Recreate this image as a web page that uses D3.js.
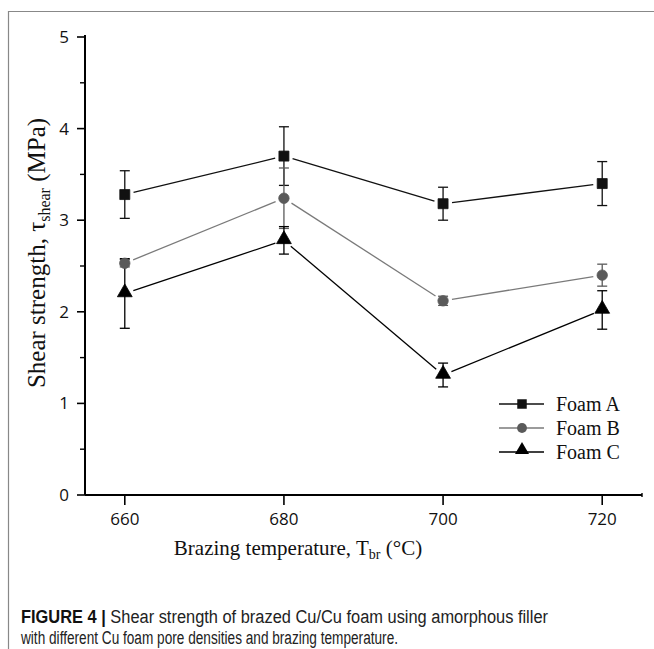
<!DOCTYPE html>
<html>
<head>
<meta charset="utf-8">
<script src="https://cdn.jsdelivr.net/npm/d3@7"></script>
<style>
  body { margin: 0; background: #fff; }
  svg { display: block; }
  .tick-label { font-family: "Open Sans", sans-serif; font-size: 17px; fill: #111; }
  .axis-title { font-family: "Liberation Serif", "Times New Roman", serif; fill: #111; }
  .legend { font-family: "Liberation Serif", "Times New Roman", serif; font-size: 20px; fill: #111; }
  .caption { font-family: "Liberation Sans Narrow", "Liberation Sans", Arial, sans-serif; font-size: 18px; fill: #222; }
</style>
</head>
<body>
<script>
// values
var temps = [660, 680, 700, 720];
var foamA = [3.28, 3.70, 3.18, 3.40];
var foamAErr = [0.26, 0.32, 0.18, 0.24];
var foamB = [2.53, 3.24, 2.12, 2.40];
var foamBErr = [0.04, 0.33, 0.05, 0.12];
var foamC = [2.20, 2.78, 1.31, 2.02];
var foamCErr = [0.38, 0.15, 0.13, 0.21];
var seriesNames = ["Foam A", "Foam B", "Foam C"];
var yTicks = [0, 1, 2, 3, 4, 5];
var yMinor = [0.5, 1.5, 2.5, 3.5, 4.5];

var w = 654, h = 649;
var m = {t:37, r:12, b:154, l:85};

var series = [
    {name: seriesNames[0], vals: foamA, err: foamAErr, color: "#111", sym: d3.symbolSquare, size: 100},
    {name: seriesNames[1], vals: foamB, err: foamBErr, color: "#5a5a5a", sym: d3.symbolCircle, size: 85, line: "#7a7a7a"},
    {name: seriesNames[2], vals: foamC, err: foamCErr, color: "#000", sym: d3.symbolTriangle, size: 95}
];

var svg = d3.select("body").append("svg")
    .attr("width", w)
    .attr("height", h);

// figure frame
svg.append("path")
    .attr("d", "M8.5," + h + "V11.5H" + w)
    .style("fill", "none")
    .style("stroke", "#888")
    .style("stroke-width", 1.2);

var x = d3.scaleLinear().domain([655, 725]).range([m.l, w - m.r]);
var y = d3.scaleLinear().domain([0, 5]).range([h - m.b, m.t]);

var g = svg.append("g");

// y axis
g.append("line")
    .attr("x1", m.l).attr("x2", m.l)
    .attr("y1", y(0)).attr("y2", y(5) - 2)
    .style("stroke", "#000").style("stroke-width", 2);

g.selectAll(".ytick").data(yTicks).enter().append("line")
    .attr("class", "ytick")
    .attr("x1", m.l - 8).attr("x2", m.l)
    .attr("y1", function(d){ return y(d); })
    .attr("y2", function(d){ return y(d); })
    .style("stroke", "#000").style("stroke-width", 1.6);

g.selectAll(".yminor").data(yMinor).enter().append("line")
    .attr("class", "yminor")
    .attr("x1", m.l - 5).attr("x2", m.l)
    .attr("y1", function(d){ return y(d); })
    .attr("y2", function(d){ return y(d); })
    .style("stroke", "#000").style("stroke-width", 1.4);

g.selectAll(".ylab").data(yTicks).enter().append("text")
    .attr("class", "tick-label")
    .attr("x", m.l - 16)
    .attr("y", function(d){ return y(d) + 6; })
    .style("text-anchor", "end")
    .text(function(d){ return d; });

// x axis
g.append("line")
    .attr("x1", m.l).attr("x2", w - m.r)
    .attr("y1", y(0)).attr("y2", y(0))
    .style("stroke", "#000").style("stroke-width", 2);

g.selectAll(".xtick").data(temps).enter().append("line")
    .attr("class", "xtick")
    .attr("x1", function(d){ return x(d); })
    .attr("x2", function(d){ return x(d); })
    .attr("y1", y(0)).attr("y2", y(0) + 10)
    .style("stroke", "#000").style("stroke-width", 1.6);

g.append("line")
    .attr("x1", x(725)).attr("x2", x(725))
    .attr("y1", y(0) - 2).attr("y2", y(0) + 2)
    .style("stroke", "#000").style("stroke-width", 1.4);

g.selectAll(".xlab").data(temps).enter().append("text")
    .attr("class", "tick-label")
    .attr("x", function(d){ return x(d); })
    .attr("y", y(0) + 30)
    .style("text-anchor", "middle")
    .text(function(d){ return d; });

// axis titles
var xt = svg.append("text")
    .attr("class", "axis-title")
    .attr("x", 298)
    .attr("y", 555)
    .style("font-size", "21px")
    .style("text-anchor", "middle");
xt.append("tspan").text("Brazing temperature, T");
xt.append("tspan").attr("dy", 4).style("font-size", "14px").text("br");
xt.append("tspan").attr("dy", -4).text(" (\u00B0C)");

var yt = svg.append("text")
    .attr("class", "axis-title")
    .attr("transform", "translate(45,253) rotate(-90)")
    .style("font-size", "25px")
    .style("text-anchor", "middle");
yt.append("tspan").text("Shear strength, \u03C4");
yt.append("tspan").attr("dy", 5).style("font-size", "16px").text("shear");
yt.append("tspan").attr("dy", -5).text(" (MPa)");

// lines with small gaps at the markers (origin style)
var gap = 9;
series.forEach(function(s){
    var pts = temps.map(function(t, i){ return [x(t), y(s.vals[i])]; });
    for (var i = 0; i < pts.length - 1; i++) {
        var a = pts[i], b = pts[i+1];
        var dx = b[0] - a[0], dy = b[1] - a[1];
        var len = Math.sqrt(dx*dx + dy*dy);
        var ux = dx / len, uy = dy / len;
        g.append("line")
            .attr("x1", a[0] + ux*gap).attr("y1", a[1] + uy*gap)
            .attr("x2", b[0] - ux*gap).attr("y2", b[1] - uy*gap)
            .style("stroke", s.line || s.color)
            .style("stroke-width", 1.3);
    }
});

// error bars
series.forEach(function(s){
    var eb = g.append("g");
    temps.forEach(function(t, i){
        var lo = y(s.vals[i] - s.err[i]), hi = y(s.vals[i] + s.err[i]), cx = x(t);
        eb.append("line")
            .attr("x1", cx).attr("x2", cx).attr("y1", lo).attr("y2", hi)
            .style("stroke", s.color).style("stroke-width", 1.3);
        [lo, hi].forEach(function(yy){
            eb.append("line")
                .attr("x1", cx - 5).attr("x2", cx + 5).attr("y1", yy).attr("y2", yy)
                .style("stroke", s.color).style("stroke-width", 1.3);
        });
    });
});

// markers
series.forEach(function(s){
    g.selectAll(null).data(s.vals).enter().append("path")
        .attr("d", d3.symbol().type(s.sym).size(s.size))
        .attr("transform", function(d, i){
            var dyShift = s.sym === d3.symbolTriangle ? -1 : 0;
            return "translate(" + x(temps[i]) + "," + (y(d) + dyShift) + ")";
        })
        .style("fill", s.color)
        .style("stroke", s.color)
        .style("stroke-width", 0.8);
});

// legend
var legendY = [404, 428, 452];
series.forEach(function(s, i){
    var lg = svg.append("g").attr("transform", "translate(499," + legendY[i] + ")");
    lg.append("line")
        .attr("x1", 0).attr("x2", 45).attr("y1", 0).attr("y2", 0)
        .style("stroke", s.line || s.color).style("stroke-width", 1.6);
    lg.append("path")
        .attr("d", d3.symbol().type(s.sym).size(s.size * 0.9))
        .attr("transform", "translate(23," + (s.sym === d3.symbolTriangle ? -2 : 0) + ")")
        .style("fill", s.color);
    lg.append("text")
        .attr("class", "legend")
        .attr("x", 57)
        .attr("y", 7)
        .text(s.name);
});

// caption
var c1 = svg.append("text")
    .attr("class", "caption")
    .attr("x", 21)
    .attr("y", 623)
    .attr("textLength", 527)
    .attr("lengthAdjust", "spacingAndGlyphs");
c1.append("tspan").style("font-weight", "bold").style("fill", "#111").text("FIGURE 4 | ");
c1.append("tspan").text("Shear strength of brazed Cu/Cu foam using amorphous filler");

svg.append("text")
    .attr("class", "caption")
    .attr("x", 21)
    .attr("y", 644)
    .attr("textLength", 377)
    .attr("lengthAdjust", "spacingAndGlyphs")
    .text("with different Cu foam pore densities and brazing temperature.");
</script>
</body>
</html>
